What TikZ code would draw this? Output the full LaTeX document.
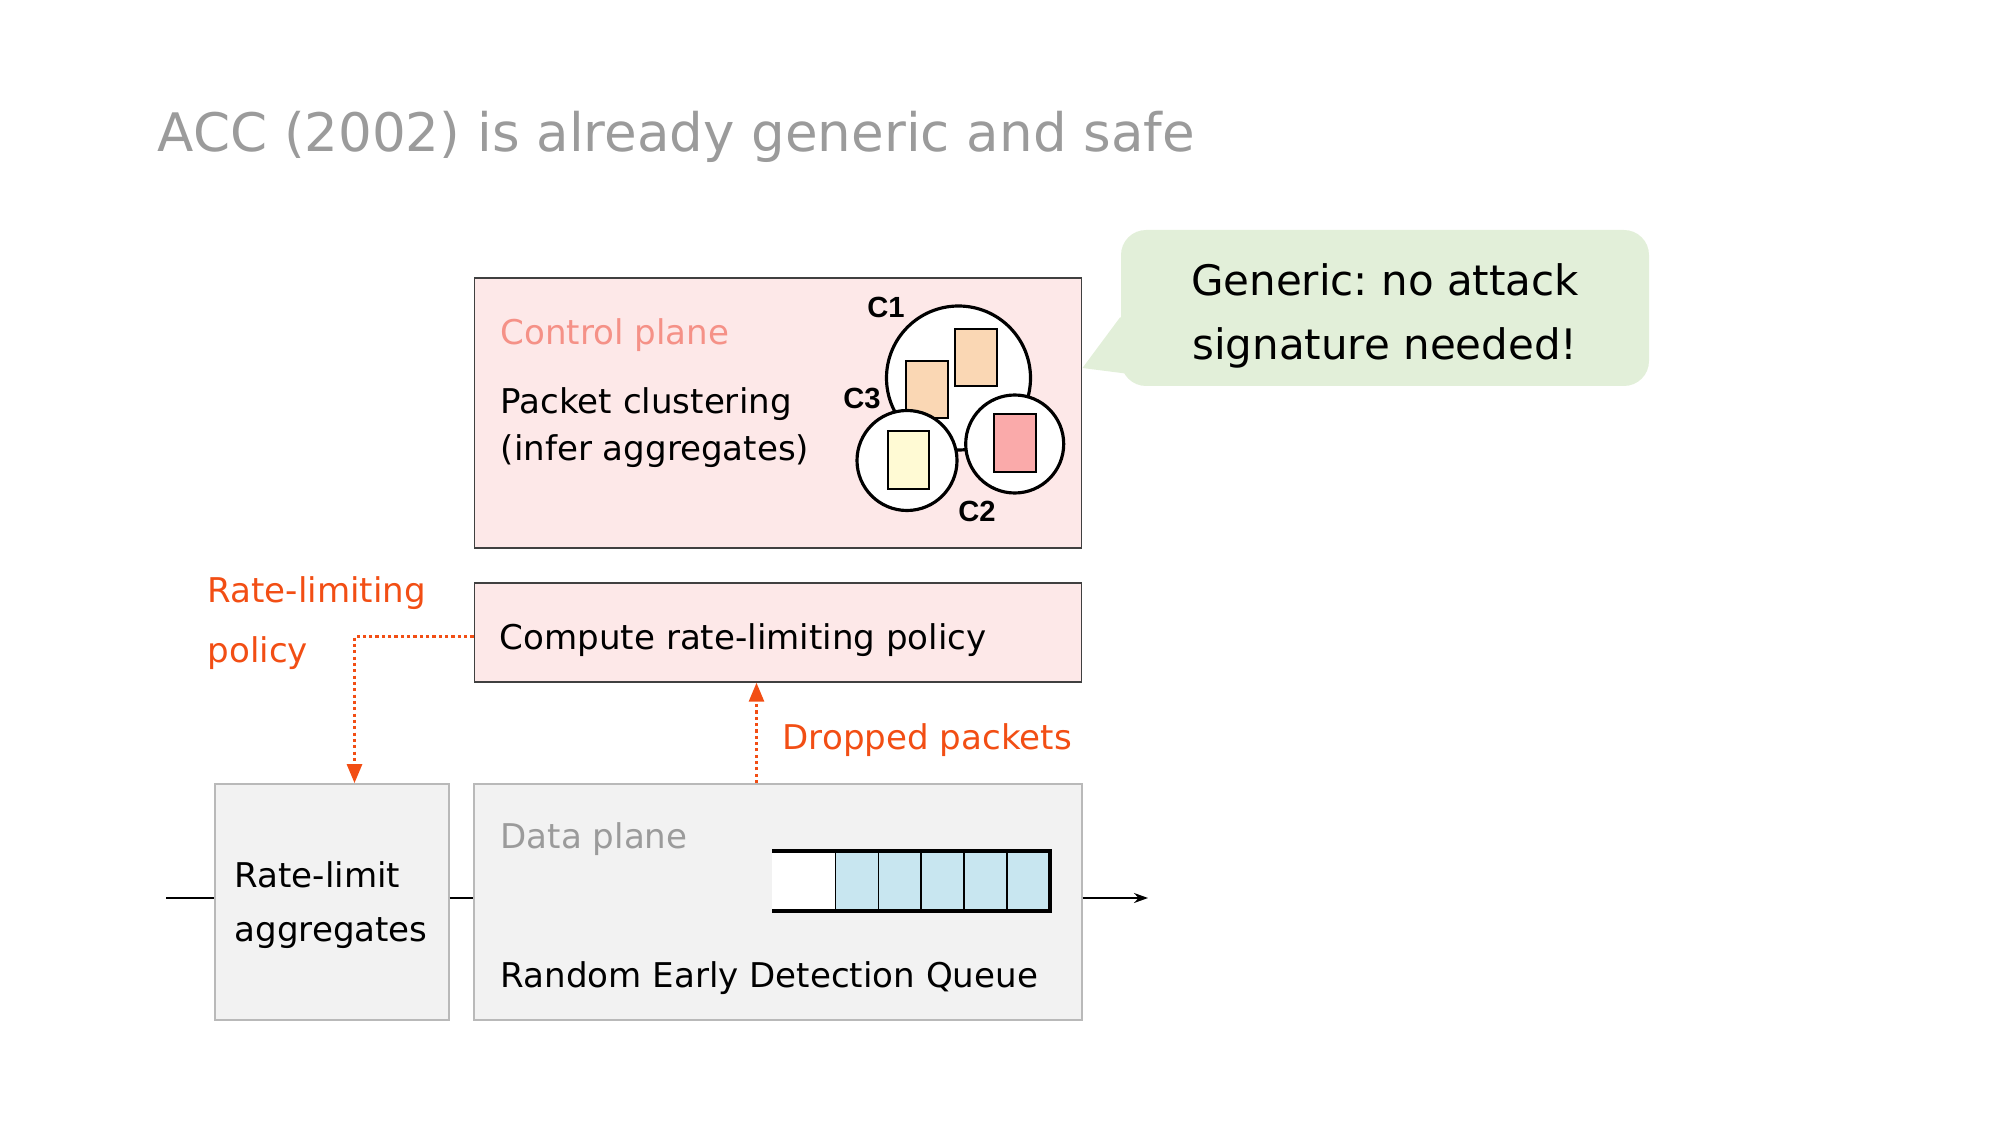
\documentclass[tikz,border=0pt]{standalone}
\usepackage{fontspec}
\setmainfont{DejaVu Sans}
\newfontfamily\clusterfont{Liberation Sans}
\usetikzlibrary{positioning,arrows.meta,calc}
\definecolor{TitleGray}{RGB}{155,155,155}
\definecolor{CtrlPink}{RGB}{253,232,232}
\definecolor{CtrlLabel}{RGB}{245,145,135}
\definecolor{DataGray}{RGB}{242,242,242}
\definecolor{DataBorder}{RGB}{185,185,185}
\definecolor{PolicyOrange}{RGB}{242,78,20}
\definecolor{CalloutGreen}{RGB}{226,239,217}
\definecolor{QueueBlue}{RGB}{200,230,240}
\definecolor{PeachPkt}{RGB}{250,215,180}
\definecolor{YellowPkt}{RGB}{255,250,212}
\definecolor{PinkPkt}{RGB}{250,170,170}

\begin{document}
\begin{tikzpicture}[every node/.style={font=\fontsize{9.7}{13.6}\selectfont, align=left, inner sep=0pt},
  ctrlbox/.style={draw=black!75, line width=0.4pt, fill=CtrlPink, minimum width=6.075cm},
  databox/.style={draw=DataBorder, line width=0.5pt, fill=DataGray, minimum height=2.36cm},
  flow/.style={-{Triangle[length=0.19cm, width=0.15cm]}, PolicyOrange, line width=0.8pt, dash pattern=on 0.9pt off 0.9pt},
  pkt/.style={draw, line width=0.6pt},
  cl/.style={font=\clusterfont\bfseries\fontsize{8.3}{9}\selectfont}]
  \useasboundingbox (0,0) rectangle (20,11.25);

  % title
  \node[anchor=west, TitleGray, font=\fontsize{15.1}{18}\selectfont] (title) at (1.57,9.88) {ACC (2002) is already generic and safe};

  % control plane
  \node[ctrlbox, minimum height=2.70cm] (ctrl) at (7.78,7.12) {};
  \node[anchor=west, CtrlLabel] (ctrllbl) at (5.00,7.895) {Control plane};
  \node[anchor=west] (cluster) at (5.00,6.975) {Packet clustering\\(infer aggregates)};

  % packet clusters
  \draw[line width=0.9pt, fill=white] (9.585,7.47) circle (0.72);
  \draw[pkt, fill=PeachPkt] (9.06,7.07) rectangle (9.48,7.64);
  \draw[pkt, fill=PeachPkt] (9.55,7.39) rectangle (9.97,7.96);
  \draw[line width=0.9pt, fill=white] (9.07,6.645) circle (0.50);
  \draw[pkt, fill=YellowPkt] (8.88,6.36) rectangle (9.29,6.94);
  \draw[line width=0.9pt, fill=white] (10.147,6.81) circle (0.49);
  \draw[pkt, fill=PinkPkt] (9.94,6.53) rectangle (10.36,7.11);
  \node[cl] (c1) at (8.86,8.18) {C1};
  \node[cl] (c3) at (8.62,7.27) {C3};
  \node[cl] (c2) at (9.77,6.14) {C2};

  % callout
  \node[fill=CalloutGreen, rounded corners=0.25cm, minimum width=5.28cm, minimum height=1.56cm, align=center,
    font=\fontsize{11.95}{18.4}\selectfont\frenchspacing, text depth=0pt] (call) at (13.85,8.17) {};
  \node[align=center, font=\fontsize{11.95}{18.4}\selectfont\frenchspacing] (calltxt) at ([yshift=-0.08cm]call.center) {Generic: no attack\\signature needed!};
  \fill[CalloutGreen] ([yshift=-0.09cm]call.west) -- ([yshift=0.45cm]ctrl.east) -- ([xshift=0.3cm,yshift=0.1cm]call.south west) -- cycle;

  % policy computation
  \node[ctrlbox, minimum height=0.99cm] (comp) at (7.78,4.925) {};
  \node[anchor=west] (comptxt) at ([xshift=0.255cm,yshift=-0.08cm]comp.west) {Compute rate-limiting policy};

  % data plane
  \node[databox, minimum width=2.335cm] (rate) at (3.32,2.23) {};
  \node[anchor=west, font=\fontsize{9.7}{15.4}\selectfont] (ratetxt) at ([xshift=0.195cm,yshift=-0.03cm]rate.west) {Rate-limit\\aggregates};
  \node[databox, minimum width=6.075cm] (data) at (7.78,2.23) {};
  \node[anchor=west, TitleGray] (datalbl) at (5.00,2.855) {Data plane};
  \node[anchor=west] (red) at (5.00,1.465) {Random Early Detection Queue};

  % queue
  \fill[white] (7.72,2.14) rectangle (8.355,2.74);
  \foreach \i in {0,...,4}
    \draw[fill=QueueBlue, line width=0.5pt] ({8.355+0.429*\i},2.14) rectangle ++(0.429,0.6);
  \draw[line width=1.3pt] (7.72,2.74) -- (10.50,2.74) -- (10.50,2.14) -- (7.72,2.14);

  % traffic line
  \coordinate (src) at (1.66,2.27);
  \coordinate (sink) at (11.48,2.27);
  \draw[line width=0.5pt] (src) -- (src -| rate.west);
  \draw[line width=0.5pt] (rate.east |- src) -- (data.west |- src);
  \draw[line width=0.5pt, -{Stealth[length=0.14cm, width=0.1cm]}] (data.east |- src) -- (sink);

  % feedback arrows
  \draw[flow] ([yshift=-0.04cm]comp.west) -| ([xshift=0.225cm]rate.north);
  \node[anchor=west, PolicyOrange, font=\fontsize{9.7}{17.3}\selectfont] (policylbl) at (2.07,5.02) {Rate-limiting\\policy};
  \draw[flow] ([xshift=-0.215cm]data.north) -- ([xshift=-0.215cm]comp.south);
  \node[anchor=west, PolicyOrange] (droplbl) at (7.82,3.85) {Dropped packets};
\end{tikzpicture}
\end{document}
